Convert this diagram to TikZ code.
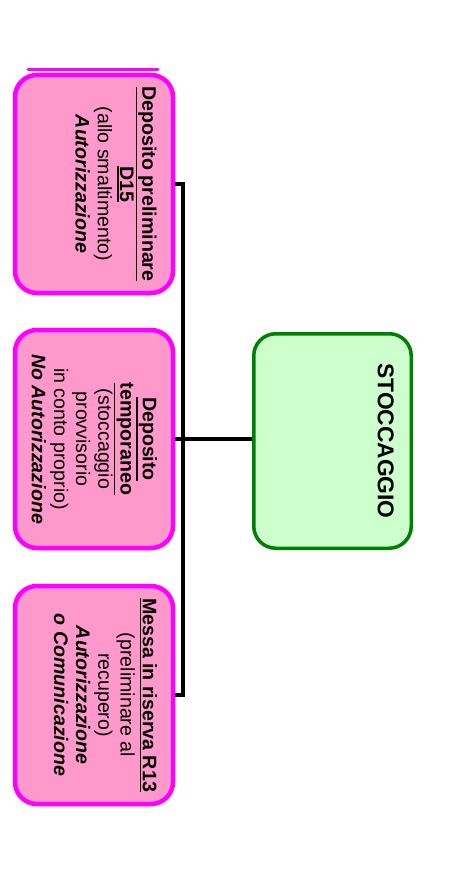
\documentclass[tikz,border=0pt]{standalone}
\usepackage{fontspec}
\setmainfont{Liberation Sans}
\definecolor{pinkfill}{HTML}{FF99CC}
\definecolor{pinkline}{HTML}{FF00FF}
\definecolor{greenfill}{HTML}{CCFFCC}
\definecolor{greenline}{HTML}{008000}
\newcommand{\myul}[1]{\leavevmode\vtop{\hbox{#1}\kern1.2pt\hrule height 1.4pt}}
\tikzset{
  pinkbox/.style={draw=pinkline, fill=pinkfill, line width=4.5pt, rounded corners=22pt,
    minimum width=158pt, minimum height=218pt, inner sep=0pt},
  greenbox/.style={draw=greenline, fill=greenfill, line width=3.5pt, rounded corners=22pt,
    minimum width=157.5pt, minimum height=214.5pt, inner sep=0pt},
  boxtext/.style={rotate=-90, anchor=north, inner sep=0pt, align=center,
    font=\fontsize{19.6}{22.2}\selectfont},
  titletext/.style={rotate=-90, anchor=north, inner sep=0pt, align=center,
    font=\fontsize{22.8}{26}\selectfont\bfseries},
  conn/.style={draw=black, line width=3.5pt, line join=miter}
}
\begin{document}
\begin{tikzpicture}[x=1pt,y=-1pt]
\useasboundingbox (0,0) rectangle (451,890);
% cut-off edge of a box above
\draw[draw=pinkline, line width=3pt, line cap=round] (28,69.5) -- (158,69.5);
% boxes
\node[pinkbox] (b1) at (94,184) {};
\node[pinkbox] (b2) at (94,439) {};
\node[pinkbox] (b3) at (94,695) {};
\node[greenbox] (g) at (332.5,441) {};
% texts
\node[boxtext] (t1) at ([xshift=-18.5pt]b1.east) {\myul{\textbf{Deposito preliminare}}\\
  \myul{\textbf{D15}}\\
  (allo smaltimento)\\
  \textbf{\textit{Autorizzazione}}};
\node[boxtext] (t2) at ([xshift=-18pt]b2.east) {\myul{\textbf{Deposito}}\\
  \myul{\textbf{temporaneo}}\\
  (stoccaggio\\
  provvisorio\\
  in conto proprio)\\
  \textbf{\textit{No Autorizzazione}}};
\node[boxtext] (t3) at ([xshift=-18pt]b3.east) {\myul{\textbf{Messa in riserva R13}}\\
  (preliminare al\\
  recupero)\\
  \textbf{\textit{Autorizzazione}}\\
  \textbf{\textit{o Comunicazione}}};
\node[titletext] (tg) at ([xshift=-19pt]g.east) {STOCCAGGIO};
% connectors
\coordinate (bus) at (183,0);
\draw[conn] (b1.east) -- (b1.east -| bus) -- (b3.east -| bus) -- (b3.east);
\draw[conn] (b2.east) -- (b2.east -| g.west);
\end{tikzpicture}
\end{document}
